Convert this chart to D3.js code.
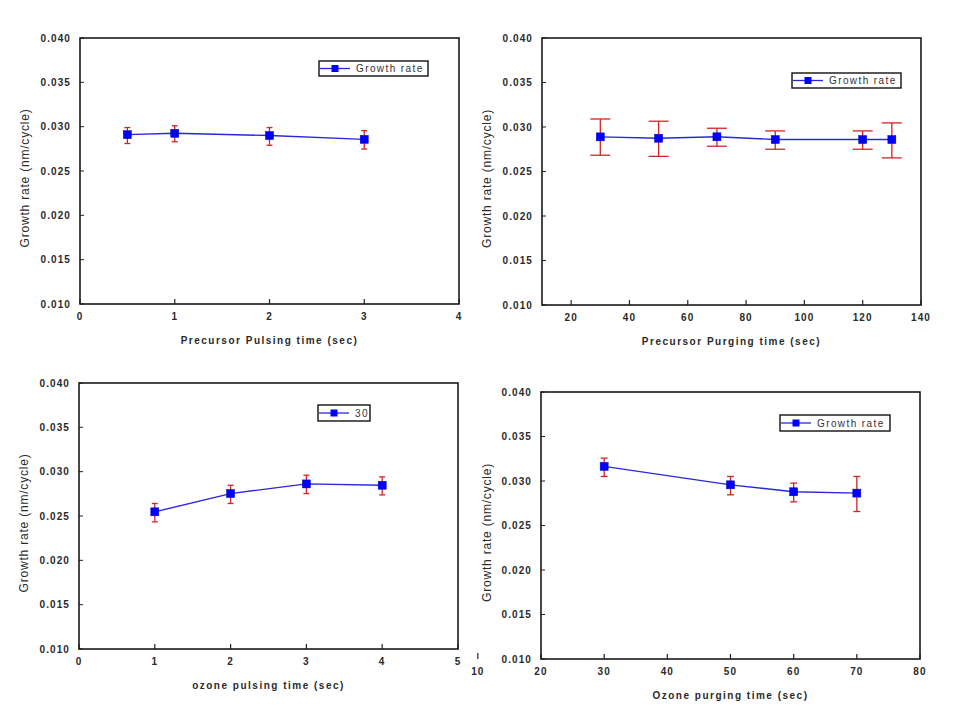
<!DOCTYPE html>
<html>
<head>
<meta charset="utf-8">
<script src="https://cdn.jsdelivr.net/npm/d3@7"></script>
<style>
  html, body { margin: 0; padding: 0; background: #fff; }
  svg text { font-family: "Liberation Sans", Arial, sans-serif; }
</style>
</head>
<body>
<svg id="chart" width="955" height="719"></svg>
<script>
// ---------- data ----------
const yTicks = [0.010, 0.015, 0.020, 0.025, 0.030, 0.035, 0.040];
const yTitle = "Growth rate (nm/cycle)";

// Panel A: precursor pulsing
const pulseX   = [0.5, 1, 2, 3];
const pulseY   = [0.0291, 0.02925, 0.0290, 0.02857];
const pulseHi  = [0.0299, 0.0301, 0.0299, 0.02955];
const pulseLo  = [0.0281, 0.0283, 0.0279, 0.02748];
const pulseXTicks = [0, 1, 2, 3, 4];

// Panel B: precursor purging
const purgeX   = [30, 50, 70, 90, 120, 130];
const purgeY   = [0.02889, 0.02874, 0.0289, 0.02859, 0.02859, 0.02859];
const purgeHi  = [0.0309, 0.03065, 0.02986, 0.02956, 0.02956, 0.03046];
const purgeLo  = [0.02683, 0.0267, 0.02784, 0.0275, 0.0275, 0.02653];
const purgeXTicks = [20, 40, 60, 80, 100, 120, 140];

// Panel C: ozone pulsing
const ozPulseX  = [1, 2, 3, 4];
const ozPulseY  = [0.02547, 0.02753, 0.02862, 0.02847];
const ozPulseHi = [0.02641, 0.02847, 0.0296, 0.02941];
const ozPulseLo = [0.02434, 0.02641, 0.02753, 0.02738];
const ozPulseXTicks = [0, 1, 2, 3, 4, 5];

// Panel D: ozone purging
const ozPurgeX  = [30, 50, 60, 70];
const ozPurgeY  = [0.03164, 0.02957, 0.02879, 0.02864];
const ozPurgeHi = [0.03257, 0.03051, 0.02976, 0.03051];
const ozPurgeLo = [0.03051, 0.02845, 0.02766, 0.02657];
const ozPurgeXTicks = [10, 20, 30, 40, 50, 60, 70, 80];

const panels = [
  { x: pulseX, y: pulseY, hi: pulseHi, lo: pulseLo, xTicks: pulseXTicks, xDomain: [0, 4],
    xTitle: "Precursor Pulsing time (sec)", legend: "Growth rate",
    rect: { l: 80, t: 38, r: 459, b: 304 }, cap: 3, legendBox: { x: 319, y: 61, w: 109, h: 15 },
    yTitleX: 25 },
  { x: purgeX, y: purgeY, hi: purgeHi, lo: purgeLo, xTicks: purgeXTicks, xDomain: [10, 140],
    xTitle: "Precursor Purging time (sec)", legend: "Growth rate",
    rect: { l: 542, t: 38, r: 921, b: 305 }, cap: 10, legendBox: { x: 792, y: 73, w: 109, h: 15 },
    yTitleX: 487 },
  { x: ozPulseX, y: ozPulseY, hi: ozPulseHi, lo: ozPulseLo, xTicks: ozPulseXTicks, xDomain: [0, 5],
    xTitle: "ozone pulsing time (sec)", legend: "30",
    rect: { l: 79, t: 383, r: 458, b: 649 }, cap: 3, legendBox: { x: 318, y: 405, w: 52, h: 16 },
    yTitleX: 24 },
  { x: ozPurgeX, y: ozPurgeY, hi: ozPurgeHi, lo: ozPurgeLo, xTicks: ozPurgeXTicks, xDomain: [20, 80],
    xTitle: "Ozone purging time (sec)", legend: "Growth rate",
    rect: { l: 541, t: 392, r: 920, b: 659 }, cap: 3.5, legendBox: { x: 780, y: 415, w: 110, h: 16 },
    yTitleX: 487 }
];

const svg = d3.select("#chart");
const lineColor = "#2828d8";
const markerColor = "#0000ff";
const errColor = "#d42424";
const textColor = "#2a2a2a";

panels.forEach(p => {
  const { l, t, r, b } = p.rect;
  const xs = d3.scaleLinear().domain(p.xDomain).range([l, r]);
  const ys = d3.scaleLinear().domain([0.010, 0.040]).range([b, t]);
  const g = svg.append("g");

  // y ticks (inward) + labels
  g.selectAll(".yt").data(yTicks).enter().append("line")
    .attr("x1", l).attr("x2", l + 4)
    .attr("y1", d => ys(d)).attr("y2", d => ys(d))
    .attr("stroke", "#222").attr("stroke-width", 1);
  g.selectAll(".yl").data(yTicks).enter().append("text")
    .attr("x", l - 9).attr("y", d => ys(d))
    .attr("dy", "0.35em").attr("text-anchor", "end")
    .attr("font-size", 10).attr("font-weight", "bold")
    .attr("letter-spacing", 1.1).attr("fill", textColor)
    .text(d => d3.format(".3f")(d));

  // x ticks (inward) + labels
  g.selectAll(".xt").data(p.xTicks).enter().append("line")
    .attr("x1", d => xs(d)).attr("x2", d => xs(d))
    .attr("y1", d => d < p.xDomain[0] ? b - 6 : b)
    .attr("y2", d => d < p.xDomain[0] ? b : b - 5)
    .attr("stroke", "#222").attr("stroke-width", 1.2);
  g.selectAll(".xl").data(p.xTicks).enter().append("text")
    .attr("x", d => xs(d)).attr("y", b + 16)
    .attr("text-anchor", "middle")
    .attr("font-size", 10).attr("font-weight", "bold")
    .attr("letter-spacing", 1.1).attr("fill", textColor)
    .text(d => d);

  // frame
  g.append("rect").attr("x", l).attr("y", t).attr("width", r - l).attr("height", b - t)
    .attr("fill", "none").attr("stroke", "#1a1a1a").attr("stroke-width", 1.6);

  // titles
  g.append("text")
    .attr("x", (l + r) / 2)
    .attr("y", b + 40)
    .attr("text-anchor", "middle").attr("font-size", 10).attr("font-weight", "bold")
    .attr("letter-spacing", 1.5).attr("fill", textColor)
    .text(p.xTitle);
  g.append("text")
    .attr("transform", `translate(${p.yTitleX},${(t + b) / 2 + 7}) rotate(-90)`)
    .attr("text-anchor", "middle").attr("dy", "0.35em")
    .attr("font-size", 12).attr("letter-spacing", 0.8).attr("fill", textColor)
    .text(yTitle);

  const pts = p.x.map((xv, i) => ({ x: xv, y: p.y[i], hi: p.hi[i], lo: p.lo[i] }));

  // error bars
  const eb = g.selectAll(".eb").data(pts).enter().append("g");
  eb.append("line").attr("x1", d => xs(d.x)).attr("x2", d => xs(d.x))
    .attr("y1", d => ys(d.hi)).attr("y2", d => ys(d.lo))
    .attr("stroke", errColor).attr("stroke-width", 1.3);
  eb.append("line").attr("x1", d => xs(d.x) - p.cap).attr("x2", d => xs(d.x) + p.cap)
    .attr("y1", d => ys(d.hi)).attr("y2", d => ys(d.hi))
    .attr("stroke", errColor).attr("stroke-width", 1.3);
  eb.append("line").attr("x1", d => xs(d.x) - p.cap).attr("x2", d => xs(d.x) + p.cap)
    .attr("y1", d => ys(d.lo)).attr("y2", d => ys(d.lo))
    .attr("stroke", errColor).attr("stroke-width", 1.3);

  // line
  g.append("path").datum(pts)
    .attr("d", d3.line().x(d => xs(d.x)).y(d => ys(d.y)))
    .attr("fill", "none").attr("stroke", lineColor).attr("stroke-width", 1.4);

  // markers
  const ms = 8;
  g.selectAll(".mk").data(pts).enter().append("rect")
    .attr("x", d => xs(d.x) - ms / 2).attr("y", d => ys(d.y) - ms / 2)
    .attr("width", ms).attr("height", ms)
    .attr("fill", markerColor).attr("stroke", "#0000c0").attr("stroke-width", 0.5);

  // legend
  const lb = p.legendBox;
  const lg = g.append("g");
  lg.append("rect").attr("x", lb.x).attr("y", lb.y).attr("width", lb.w).attr("height", lb.h)
    .attr("fill", "#fff").attr("stroke", "#111").attr("stroke-width", 1.4);
  lg.append("line").attr("x1", lb.x + 1).attr("x2", lb.x + 31)
    .attr("y1", lb.y + lb.h / 2).attr("y2", lb.y + lb.h / 2)
    .attr("stroke", lineColor).attr("stroke-width", 1.3);
  lg.append("rect").attr("x", lb.x + 16 - 3.5).attr("y", lb.y + lb.h / 2 - 3.5)
    .attr("width", 7).attr("height", 7).attr("fill", markerColor);
  lg.append("text").attr("x", lb.x + 37).attr("y", lb.y + lb.h / 2).attr("dy", "0.35em")
    .attr("font-size", 10).attr("letter-spacing", 1.4).attr("fill", "#333")
    .text(p.legend);
});
</script>
</body>
</html>
